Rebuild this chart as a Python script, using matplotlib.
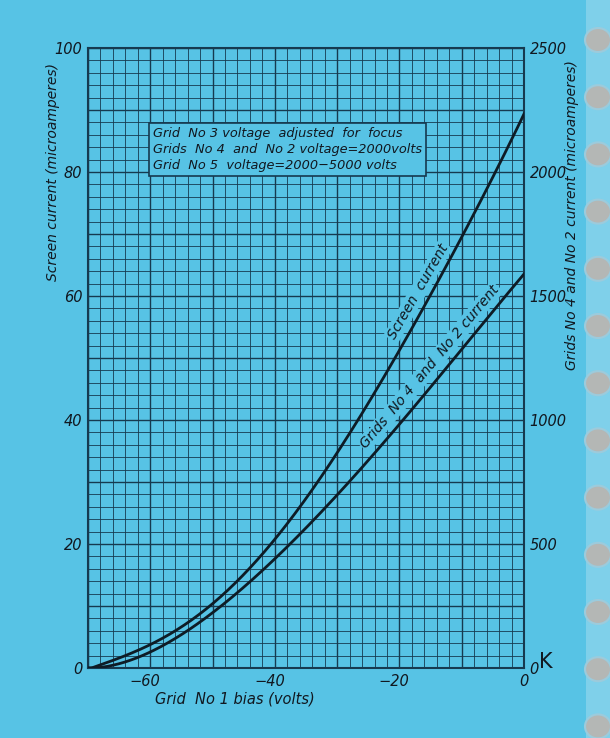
import numpy as np
import matplotlib
matplotlib.use("Agg")
import matplotlib.pyplot as plt
import matplotlib.transforms as mtrans
from matplotlib.patches import Ellipse

# grid No 1 bias (volts)
bias = [-70, -65, -60, -55, -50, -45, -40, -35, -30, -25, -20, -15, -10, -5, 0]
# screen current, microamperes (left axis)
screen_ua = [0, 1.2, 3.7, 6.9, 10.6, 15.2, 20.6, 27.1, 34.3, 43.0, 51.6, 60.4, 69.2, 79.0, 89.5]
# grids No 4 and No 2 current, microamperes (right axis)
grid_ua = [0, 15, 65, 135, 225, 325, 440, 565, 697, 835, 985, 1135, 1285, 1435, 1590]

x_ticks = [-60, -40, -20, 0]
x_labels = ['\u221260', '\u221240', '\u221220', '0']
left_ticks = [0, 20, 40, 60, 80, 100]
right_ticks = [0, 500, 1000, 1500, 2000, 2500]

bg = '#57c3e5'
ink = '#163a50'
txt = '#111820'

plt.rcParams['font.family'] = ['DejaVu Sans']
plt.rcParams['font.style'] = 'italic'

fig = plt.figure(figsize=(6.1, 7.38), dpi=100, facecolor=bg)
ax = fig.add_axes([88 / 610, 70 / 738, 436 / 610, 620 / 738], facecolor=bg)
ax.set_xlim(-70, 0)
ax.set_ylim(0, 100)

# graph paper
for v in np.arange(-70, 1, 2):
    lw = 1.0 if v % 10 == 0 else 0.6
    ax.axvline(v, color=ink, lw=lw, zorder=1)
for v in np.arange(0, 101, 2):
    lw = 1.0 if v % 10 == 0 else 0.6
    ax.axhline(v, color=ink, lw=lw, zorder=1)
for s in ax.spines.values():
    s.set_color(ink)
    s.set_linewidth(1.5)

# smooth curves through the read points
xs = np.linspace(-70, 0, 300)
p1 = np.polyfit(bias, screen_ua, 5)
p2 = np.polyfit(bias, np.array(grid_ua) / 25.0, 5)
ax.plot(xs, np.clip(np.polyval(p1, xs), 0, None), color='#0e1c26', lw=2, zorder=6)
ax.plot(xs, np.clip(np.polyval(p2, xs), 0, None), color='#0e1c26', lw=2, zorder=6)

ax.set_xticks(x_ticks)
ax.set_xticklabels(x_labels)
ax.set_yticks(left_ticks)
ax.tick_params(length=0, labelsize=10.5, colors=txt, pad=4)
shift = mtrans.ScaledTranslation(-4 / 72, 0, fig.dpi_scale_trans)
for t in ax.get_xticklabels():
    if t.get_text() != '0':
        t.set_transform(t.get_transform() + shift)

ax2 = ax.twinx()
ax2.set_ylim(0, 2500)
ax2.set_yticks(right_ticks)
ax2.tick_params(length=0, labelsize=10.5, colors=txt, pad=4)
for s in ax2.spines.values():
    s.set_visible(False)

ax.set_ylabel('Screen current (microamperes)', fontsize=10, color=txt)
ax.yaxis.set_label_coords(-0.064, 0.80)
ax2.set_ylabel('Grids No 4 and No 2 current (microamperes)', fontsize=10, color=txt)
ax2.yaxis.set_label_coords(1.094, 0.73)
ax.set_xlabel('Grid  No 1 bias (volts)', fontsize=10.5, color=txt)
ax.xaxis.set_label_coords(0.336, -0.038)

# K mark next to right zero
fig.text(546 / 610, 1 - 662 / 738, 'K', fontsize=15, style='normal',
         color=txt, ha='center', va='center')

# note box
note = ('Grid  No 3 voltage  adjusted  for  focus\n'
        'Grids  No 4  and  No 2 voltage=2000volts\n'
        'Grid  No 5  voltage=2000\u22125000 volts')
ax.text(-59.6, 80.0, note, fontsize=9.3, color=txt, va='bottom', ha='left',
        linespacing=1.3, zorder=7,
        bbox=dict(boxstyle='square,pad=0.3', facecolor=bg, edgecolor=ink, lw=1.2))

# curve labels
ax.text(-17.0, 60.7, 'Screen  current', rotation=60, fontsize=10, color=txt,
        ha='center', va='center', zorder=5,
        bbox=dict(boxstyle='square,pad=0.1', facecolor=bg, edgecolor='none'))
ax.text(-15.1, 48.6, 'Grids  No 4  and  No 2 current', rotation=50, fontsize=10,
        color=txt, ha='center', va='center', zorder=5,
        bbox=dict(boxstyle='square,pad=0.1', facecolor=bg, edgecolor='none'))

# binding holes at the right edge
fig.patches.append(plt.Rectangle((586 / 610, 0), 24 / 610, 1, transform=fig.transFigure,
                                 facecolor='#7fd0ea', edgecolor='none'))
for yy in np.arange(40, 740, 57.2):
    fig.patches.append(Ellipse((598 / 610, 1 - yy / 738), 26 / 610, 24 / 738,
                               transform=fig.transFigure, facecolor='#b4b7b5',
                               edgecolor='#9ccbdc', lw=1.5))

fig.savefig('out.png', dpi=100, facecolor=bg)
